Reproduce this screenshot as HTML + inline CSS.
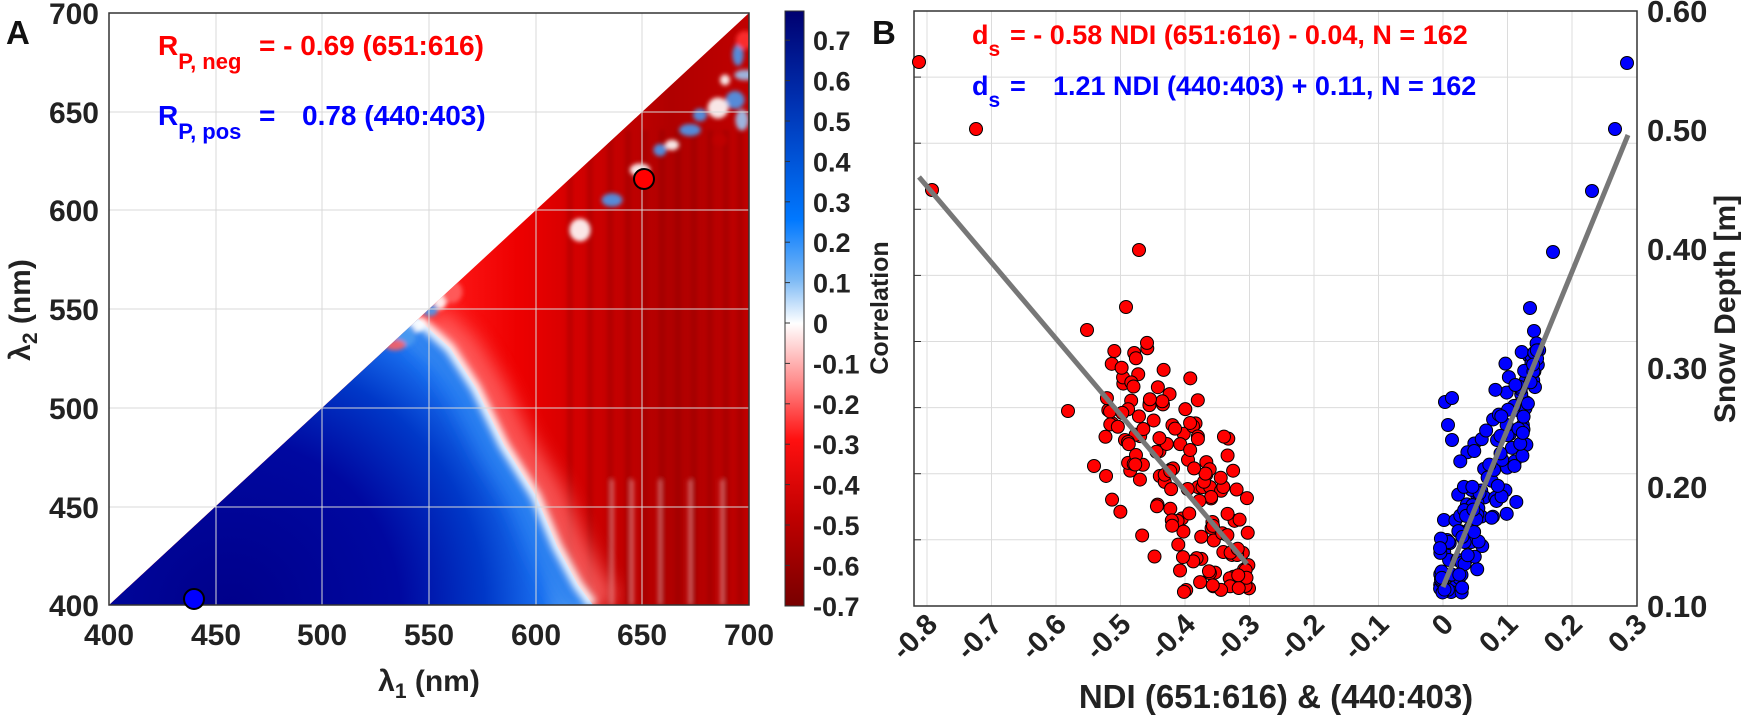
<!DOCTYPE html>
<html><head><meta charset="utf-8"><style>
html,body{margin:0;padding:0;background:#fff}
svg{display:block}
text{font-family:"Liberation Sans",Arial,sans-serif;font-weight:bold}
</style></head><body>
<svg id="s" width="1748" height="719" viewBox="0 0 1748 719" xmlns="http://www.w3.org/2000/svg">
<defs>
<clipPath id="tri"><polygon points="109,605 749,13 749,605"/></clipPath>
<clipPath id="bclip"><polygon points="109,605 418,319 450,348 476,388 504,445 536,496 557,546 578,585 593,605"/></clipPath>
<radialGradient id="bg" cx="230" cy="610" r="340" gradientUnits="userSpaceOnUse">
<stop offset="0" stop-color="#00008a"/><stop offset="0.5" stop-color="#0008a0"/><stop offset="0.75" stop-color="#0038c8"/><stop offset="0.92" stop-color="#1a70f0"/><stop offset="1" stop-color="#60a8f5"/></radialGradient>
<linearGradient id="rg" x1="440" y1="0" x2="749" y2="0" gradientUnits="userSpaceOnUse">
<stop offset="0" stop-color="#ff1a1a"/><stop offset="0.25" stop-color="#ee0000"/><stop offset="0.5" stop-color="#cc0000"/><stop offset="0.75" stop-color="#b00000"/><stop offset="1" stop-color="#c00000"/></linearGradient>
<linearGradient id="cb" x1="0" y1="11" x2="0" y2="606" gradientUnits="userSpaceOnUse">
<stop offset="0" stop-color="#000070"/><stop offset="0.15" stop-color="#0030b0"/><stop offset="0.35" stop-color="#0078ff"/><stop offset="0.45" stop-color="#7ab8f5"/><stop offset="0.525" stop-color="#ffffff"/><stop offset="0.62" stop-color="#ff9090"/><stop offset="0.72" stop-color="#ff1010"/><stop offset="0.85" stop-color="#c00000"/><stop offset="1" stop-color="#780000"/></linearGradient>
<filter id="bl"><feGaussianBlur stdDeviation="4"/></filter>
<filter id="bl2"><feGaussianBlur stdDeviation="2"/></filter>
<filter id="bl3"><feGaussianBlur stdDeviation="10"/></filter>
</defs>
<g clip-path="url(#tri)">
<rect x="109" y="13" width="640" height="592" fill="url(#rg)"/>
<g id="stripes" filter="url(#bl2)"></g>
<polyline points="433,319 465,348 491,388 519,445 551,496 572,546 593,585 608,605" fill="none" stroke="#ff7070" stroke-width="28" filter="url(#bl3)" opacity="0.8"/>
<polygon points="109,605 418,319 450,348 476,388 504,445 536,496 557,546 578,585 593,605" fill="url(#bg)"/>
<g clip-path="url(#bclip)"><polyline points="418,319 450,348 476,388 504,445 536,496 557,546 578,585 593,605" fill="none" stroke="#2a80f0" stroke-width="50" filter="url(#bl3)"/></g>
<polyline points="418,319 450,348 476,388 504,445 536,496 557,546 578,585 593,605" fill="none" stroke="#fff" stroke-width="10" filter="url(#bl)"/>
<g filter="url(#bl2)" id="blobs"></g>
</g>
<g stroke="#d8d8d8" stroke-width="1">
<line x1="216" y1="13" x2="216" y2="605"/><line x1="322" y1="13" x2="322" y2="605"/><line x1="429" y1="13" x2="429" y2="605"/><line x1="536" y1="13" x2="536" y2="605"/><line x1="642" y1="13" x2="642" y2="605"/>
<line x1="109" y1="112" x2="749" y2="112"/><line x1="109" y1="210" x2="749" y2="210"/><line x1="109" y1="309" x2="749" y2="309"/><line x1="109" y1="408" x2="749" y2="408"/><line x1="109" y1="507" x2="749" y2="507"/>
</g>
<rect x="109" y="13" width="640" height="592" fill="none" stroke="#333" stroke-width="1.5"/>
<circle cx="644" cy="179" r="10" fill="#f00" stroke="#000" stroke-width="2"/>
<circle cx="194" cy="599" r="10" fill="#00f" stroke="#000" stroke-width="2"/>
<g font-size="30" fill="#222" text-anchor="end">
<text x="99" y="24">700</text><text x="99" y="123">650</text><text x="99" y="221">600</text><text x="99" y="320">550</text><text x="99" y="419">500</text><text x="99" y="518">450</text><text x="99" y="616">400</text>
</g>
<g font-size="30" fill="#222" text-anchor="middle">
<text x="109" y="645">400</text><text x="216" y="645">450</text><text x="322" y="645">500</text><text x="429" y="645">550</text><text x="536" y="645">600</text><text x="642" y="645">650</text><text x="749" y="645">700</text>
</g>
<text x="429" y="691" text-anchor="middle" font-size="30" fill="#222">λ<tspan font-size="21" dy="7">1</tspan><tspan dy="-7"> (nm)</tspan></text>
<text transform="translate(30,310) rotate(-90)" text-anchor="middle" font-size="30" fill="#222">λ<tspan font-size="21" dy="7">2</tspan><tspan dy="-7"> (nm)</tspan></text>
<text x="6" y="44" font-size="33" fill="#111">A</text>
<text x="158" y="55" font-size="28" fill="#f00">R<tspan font-size="22" dy="14">P, neg</tspan><tspan dy="-14" x="259">= - 0.69 (651:616)</tspan></text>
<text x="158" y="125" font-size="28" fill="#00f">R<tspan font-size="22" dy="14">P, pos</tspan><tspan dy="-14" x="259">=</tspan><tspan x="302">0.78 (440:403)</tspan></text>
<rect x="785" y="11" width="19" height="595" fill="url(#cb)" stroke="#333" stroke-width="1"/>
<g id="cbt" font-size="27" fill="#222"></g>
<g stroke="#dcdcdc" stroke-width="1" id="gridB"></g>
<rect x="914" y="11" width="723" height="595" fill="none" stroke="#333" stroke-width="1.5"/>
<g id="pts" stroke="#000" stroke-width="1"></g>
<line x1="919" y1="177" x2="1247" y2="564" stroke="#777" stroke-width="5"/>
<line x1="1443" y1="587" x2="1628" y2="135" stroke="#777" stroke-width="5"/>
<g id="xtB" font-size="29" fill="#222"></g>
<g font-size="31" fill="#222">
<text x="1647" y="22">0.60</text><text x="1647" y="141">0.50</text><text x="1647" y="260">0.40</text><text x="1647" y="379">0.30</text><text x="1647" y="498">0.20</text><text x="1647" y="617">0.10</text>
</g>
<text transform="translate(1735,309) rotate(-90)" text-anchor="middle" font-size="30" fill="#222">Snow Depth [m]</text>
<text transform="translate(888,308) rotate(-90)" text-anchor="middle" font-size="25" fill="#222">Correlation</text>
<text x="1276" y="708" text-anchor="middle" font-size="33" fill="#222">NDI (651:616) &amp; (440:403)</text>
<text x="872" y="44" font-size="33" fill="#111">B</text>
<text x="972" y="44" font-size="27" fill="#f00">d<tspan font-size="21" dy="12">s</tspan><tspan dy="-12" x="1010">= - 0.58 NDI (651:616) - 0.04, N = 162</tspan></text>
<text x="972" y="95" font-size="27" fill="#00f">d<tspan font-size="21" dy="12">s</tspan><tspan dy="-12" x="1010">=</tspan><tspan x="1053">1.21 NDI (440:403) + 0.11, N = 162</tspan></text>
</svg>
<script>
var NS="http://www.w3.org/2000/svg";
function el(p,t,a,txt){var e=document.createElementNS(NS,t);for(var k in a)e.setAttribute(k,a[k]);if(txt!==undefined)e.textContent=txt;document.getElementById(p).appendChild(e);return e;}
var seed=12345;function r(){seed=(seed*16807)%2147483647;return (seed-1)/2147483646;}
function g(){return (r()+r()+r()-1.5)/1.5;}
[570,590,610,628,645,662,678,694,710,726,740].forEach(function(x){el("stripes","rect",{x:x-3,y:130,width:6,height:475,fill:"#800000",opacity:0.3});});
[612,632,660,690,722].forEach(function(x){el("stripes","rect",{x:x-2,y:480,width:4,height:125,fill:"#ffffff",opacity:0.35});});
var bl=[[738,55,"#4a9af0"],[745,75,"#9ac8f5"],[725,80,"#ffffff"],[735,100,"#4a9af0"],[718,108,"#ffffff"],[700,115,"#4a9af0"],[742,120,"#9ac8f5"],[690,130,"#4a9af0"],[672,145,"#ffffff"],[660,150,"#4a9af0"],[640,170,"#ffffff"],[612,200,"#4a9af0"],[580,230,"#ffffff"],[440,300,"#ffffff"],[430,310,"#4a9af0"],[415,325,"#ffffff"],[405,335,"#4a9af0"],[395,345,"#ff6060"],[452,292,"#ff6060"],[720,140,"#c00000"],[745,40,"#ff3030"]];
bl.forEach(function(b){el("blobs","ellipse",{cx:b[0],cy:b[1],rx:5+r()*6,ry:5+r()*7,fill:b[2],opacity:0.9});});
[0.7,0.6,0.5,0.4,0.3,0.2,0.1,0,-0.1,-0.2,-0.3,-0.4,-0.5,-0.6,-0.7].forEach(function(v){var y=323-v*404;el("cbt","line",{x1:785,x2:790,y1:y,y2:y,stroke:"#333"});el("cbt","text",{x:813,y:y+10},v===0?"0":v.toFixed(1));});
for(var i=-8;i<3;i++){var x=1443+i*64.5;el("gridB","line",{x1:x,x2:x,y1:11,y2:606});}
for(var k=1;k<=8;k++){var y=11+66.1*k;el("gridB","line",{x1:914,x2:1637,y1:y,y2:y});el("gridB","line",{x1:914,x2:921,y1:y,y2:y,stroke:"#333"});}
for(var i=-8;i<=3;i++){var x=1443+i*64.5;var s=i===0?"0":(i/10).toFixed(1);el("xtB","text",{transform:"translate("+(x+12)+",626) rotate(-45)","text-anchor":"end"},s);}
function pt(x,y,c){el("pts","circle",{cx:x,cy:y,r:6.5,fill:c});}
[[919,62],[976,129],[932,190],[1139,250],[1126,307],[1087,330],[1068,411],[1094,466]].forEach(function(p){pt(p[0],p[1],"#f00");});
for(var i=0;i<150;i++){var x=1105+r()*145;var yl=177+(x-919)*387/328;var y=yl+g()*150;if(y<340)y=340+r()*60;if(y>594)y=594-r()*25;pt(x,y,"#f00");}
[[1627,63],[1615,129],[1592,191],[1553,252],[1530,308],[1534,331],[1445,402],[1452,398],[1448,425],[1452,440],[1444,520],[1447,540]].forEach(function(p){pt(p[0],p[1],"#00f");});
for(var i=0;i<150;i++){var x=1440+Math.pow(r(),1.2)*100;var yl=587-(x-1443)*2.44;var y=yl+g()*110;if(y<340)y=340+r()*50;if(y>594)y=594-r()*25;pt(x,y,"#00f");}
</script>
</body></html>
